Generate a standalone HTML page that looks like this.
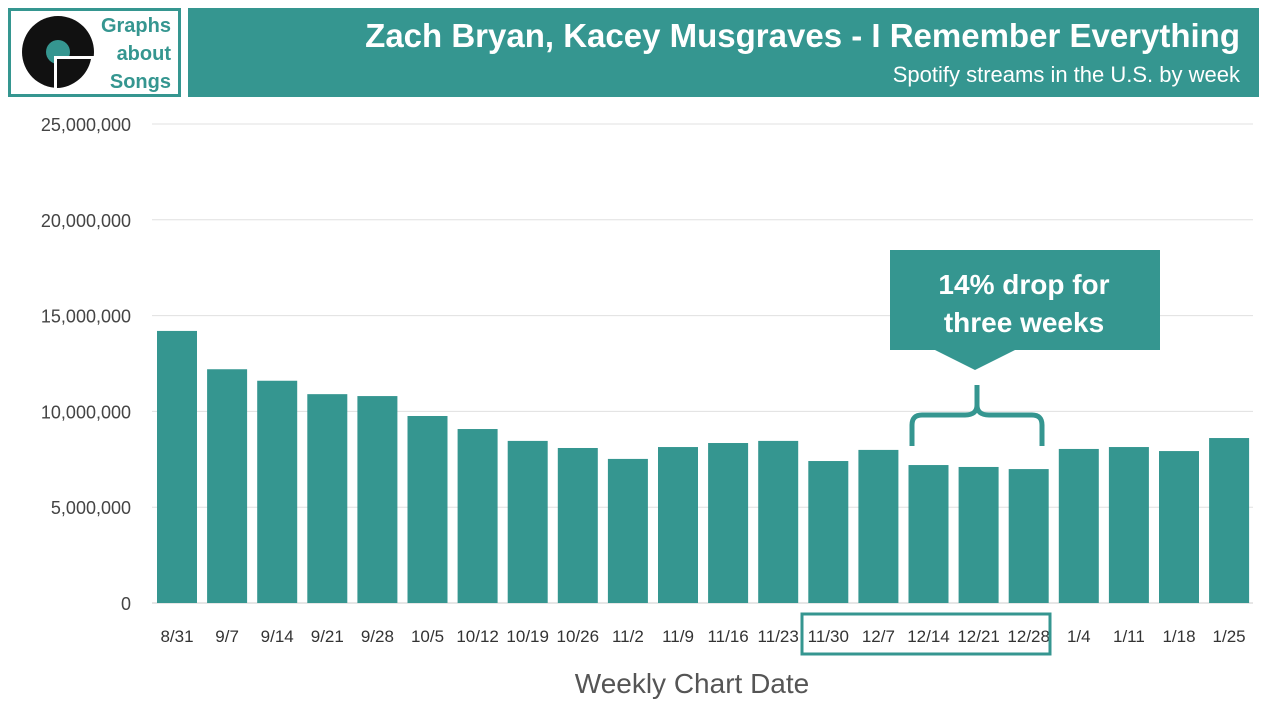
<!DOCTYPE html>
<html><head><meta charset="utf-8"><style>
body{margin:0;width:1280px;height:720px;background:#fff;font-family:"Liberation Sans",sans-serif;overflow:hidden}
</style></head><body>
<svg width="1280" height="720" xmlns="http://www.w3.org/2000/svg">
<g>
<rect x="9.5" y="9.5" width="170" height="86" fill="#fff" stroke="#359690" stroke-width="3"/>
<circle cx="58" cy="52" r="36" fill="#111"/>
<circle cx="58" cy="52" r="12" fill="#359690"/>
<path d="M54 56 H94 V92 H54 Z" fill="#fff"/>
<path d="M57 59 H91 A36 36 0 0 1 57 88 Z" fill="#111"/>
<text x="171" y="32" text-anchor="end" font-size="20" font-weight="bold" fill="#359690">Graphs</text>
<text x="171" y="60" text-anchor="end" font-size="20" font-weight="bold" fill="#359690">about</text>
<text x="171" y="88" text-anchor="end" font-size="20" font-weight="bold" fill="#359690">Songs</text>
</g>
<rect x="188" y="8" width="1071" height="89" fill="#359690"/>
<text x="1240" y="47" text-anchor="end" font-size="33" font-weight="bold" fill="#fff">Zach Bryan, Kacey Musgraves - I Remember Everything</text>
<text x="1240" y="82" text-anchor="end" font-size="22" fill="#fff">Spotify streams in the U.S. by week</text>
<g id="grid"></g><g id="bars"></g><g id="xl"></g>
<text x="692" y="693" text-anchor="middle" font-size="28" fill="#555">Weekly Chart Date</text>
<rect x="802" y="614" width="248" height="40" fill="none" stroke="#359690" stroke-width="3"/>
<g>
<rect x="890" y="250" width="270" height="100" fill="#359690"/>
<path d="M935 350 L975 370 L1015 350 Z" fill="#359690"/>
<text x="1024" y="294" text-anchor="middle" font-size="28" font-weight="bold" fill="#fff">14% drop for</text>
<text x="1024" y="332" text-anchor="middle" font-size="28" font-weight="bold" fill="#fff">three weeks</text>
<path d="M912 446 V425 Q912 415 922 415 H965 Q977 415 977 405 V385 M977 405 Q977 415 989 415 H1032 Q1042 415 1042 425 V446" fill="none" stroke="#359690" stroke-width="5"/>
</g>
</svg>
<script>
const categories=["8/31","9/7","9/14","9/21","9/28","10/5","10/12","10/19","10/26","11/2","11/9","11/16","11/23","11/30","12/7","12/14","12/21","12/28","1/4","1/11","1/18","1/25"];
const streams=[14.2,12.2,11.6,10.9,10.8,9.76,9.08,8.46,8.09,7.52,8.14,8.35,8.46,7.41,7.99,7.2,7.1,6.99,8.04,8.14,7.93,8.61];
const yTicks=[0,5,10,15,20,25];
const yTickLabels=["0","5,000,000","10,000,000","15,000,000","20,000,000","25,000,000"];
const NS="http://www.w3.org/2000/svg";
const y=v=>603-v*(479/25);
const x0=152,step=50.1;
const x=i=>x0+i*step;
function mk(t,a,p){const e=document.createElementNS(NS,t);for(const k in a)e.setAttribute(k,a[k]);p.appendChild(e);return e;}
const g=document.getElementById('grid'),b=document.getElementById('bars'),xl=document.getElementById('xl');
yTicks.forEach((v,i)=>{
 const l=mk('line',{x1:152,x2:1253,y1:y(v),y2:y(v),stroke:v===0?'#ccc':'#e0e0e0','stroke-width':1},g);
 
 
 const t=mk('text',{x:131,y:y(v)+7,'text-anchor':'end','font-size':18,fill:'#444'},g);
 t.textContent=yTickLabels[i];
 
 
});
streams.forEach((v,i)=>{
 const r=mk('rect',{x:x(i)+5,y:y(v),width:40,height:y(0)-y(v),fill:'#359690'},b);
 
 
 const t=mk('text',{x:x(i)+25,y:642,'text-anchor':'middle','font-size':17,fill:'#333'},xl);
 t.textContent=categories[i];
 
 
});
</script>
</body></html>
